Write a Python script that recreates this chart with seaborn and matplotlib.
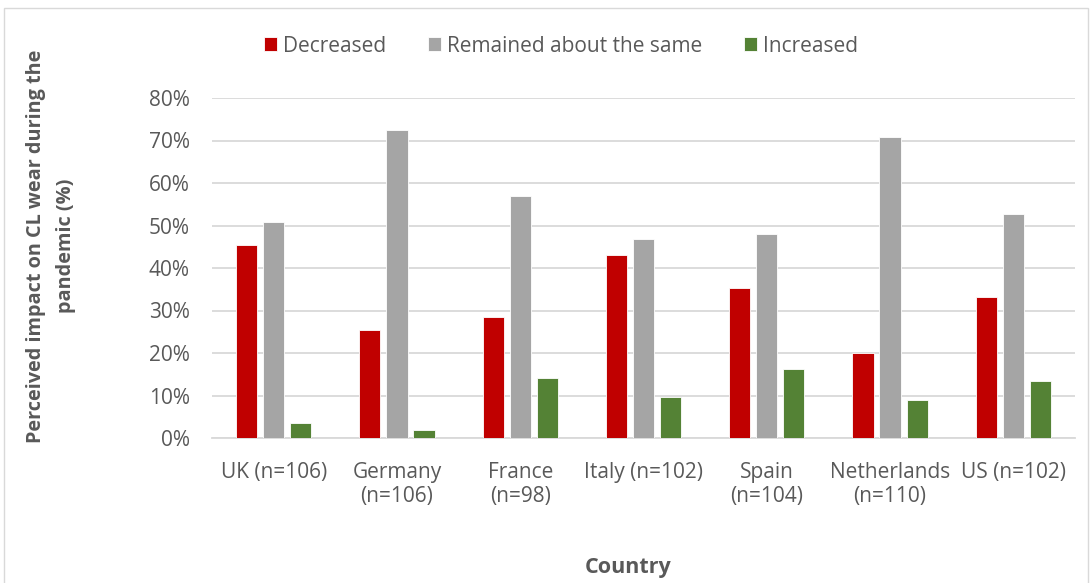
import matplotlib
matplotlib.use("Agg")
import matplotlib.pyplot as plt
from matplotlib.patches import Rectangle
from matplotlib.ticker import FuncFormatter
import seaborn as sns
import pandas as pd

countries = ["UK (n=106)", "Germany\n(n=106)", "France\n(n=98)", "Italy (n=102)",
             "Spain\n(n=104)", "Netherlands\n(n=110)", "US (n=102)"]
decreased = [45.3, 25.4, 28.5, 43.0, 35.4, 19.9, 33.2]
remained = [50.8, 72.5, 57.0, 46.9, 47.9, 70.9, 52.8]
increased = [3.6, 1.8, 14.1, 9.7, 16.3, 8.9, 13.5]
series_names = ["Decreased", "Remained about the same", "Increased"]
palette = ["#C00000", "#A5A5A5", "#548235"]

rows = []
for name, vals in zip(series_names, [decreased, remained, increased]):
    for c, v in zip(countries, vals):
        rows.append({"Country": c, "Impact": name, "Percent": v})
df = pd.DataFrame(rows)

sns.set_theme(style="white")
plt.rcParams["font.family"] = ["Open Sans", "DejaVu Sans"]
text_col = "#595959"
grid_col = "#D9D9D9"

fig = plt.figure(figsize=(10.9, 5.83), dpi=100)
ax = fig.add_axes([212 / 1090, 1 - 438 / 583, (1075 - 212) / 1090, (438 - 98) / 583])

sns.barplot(data=df, x="Country", y="Percent", hue="Impact", order=countries,
            hue_order=series_names, palette=palette, width=0.66, gap=0.22,
            edgecolor="white", linewidth=0.6, saturation=1, ax=ax, zorder=3)

ax.set_ylim(0, 80)
ax.set_yticks(range(0, 81, 10))
ax.yaxis.set_major_formatter(FuncFormatter(lambda v, p: f"{v:.0f}%"))
ax.grid(axis="y", color=grid_col, linewidth=1.3, zorder=0)
ax.set_axisbelow(True)
for s in ["left", "right", "top"]:
    ax.spines[s].set_visible(False)
ax.spines["bottom"].set_color(grid_col)
ax.spines["bottom"].set_linewidth(1.3)
ax.tick_params(axis="both", length=0, colors=text_col, labelsize=15)
ax.tick_params(axis="x", pad=17)
ax.tick_params(axis="y", pad=16)
for lbl in ax.get_xticklabels():
    lbl.set_linespacing(1.2)

ax.set_xlabel("")
ax.set_ylabel("")
fig.text(628 / 1090, 1 - 567 / 583, "Country", ha="center", va="center",
         fontsize=15.5, fontweight="bold", color=text_col)
fig.text(51 / 1090, 1 - 246 / 583,
         "Perceived impact on CL wear during the\npandemic (%)",
         rotation=90, ha="center", va="center", fontsize=14.3,
         fontweight="bold", color=text_col, linespacing=1.65)

handles, labels = ax.get_legend_handles_labels()
ax.legend_.remove()
fig.legend(handles, labels, loc="center", bbox_to_anchor=(561 / 1090, 1 - 46 / 583),
           ncol=3, frameon=False, fontsize=15, handlelength=0.62, handleheight=0.62,
           handletextpad=0.3, columnspacing=2.0, labelcolor=text_col)

fig.patches.append(Rectangle((4 / 1090, -0.05), (1088 - 4) / 1090, 1.05 - 8 / 583,
                             transform=fig.transFigure, fill=False,
                             edgecolor=grid_col, linewidth=1.0))

fig.savefig("out.png", dpi=100)
